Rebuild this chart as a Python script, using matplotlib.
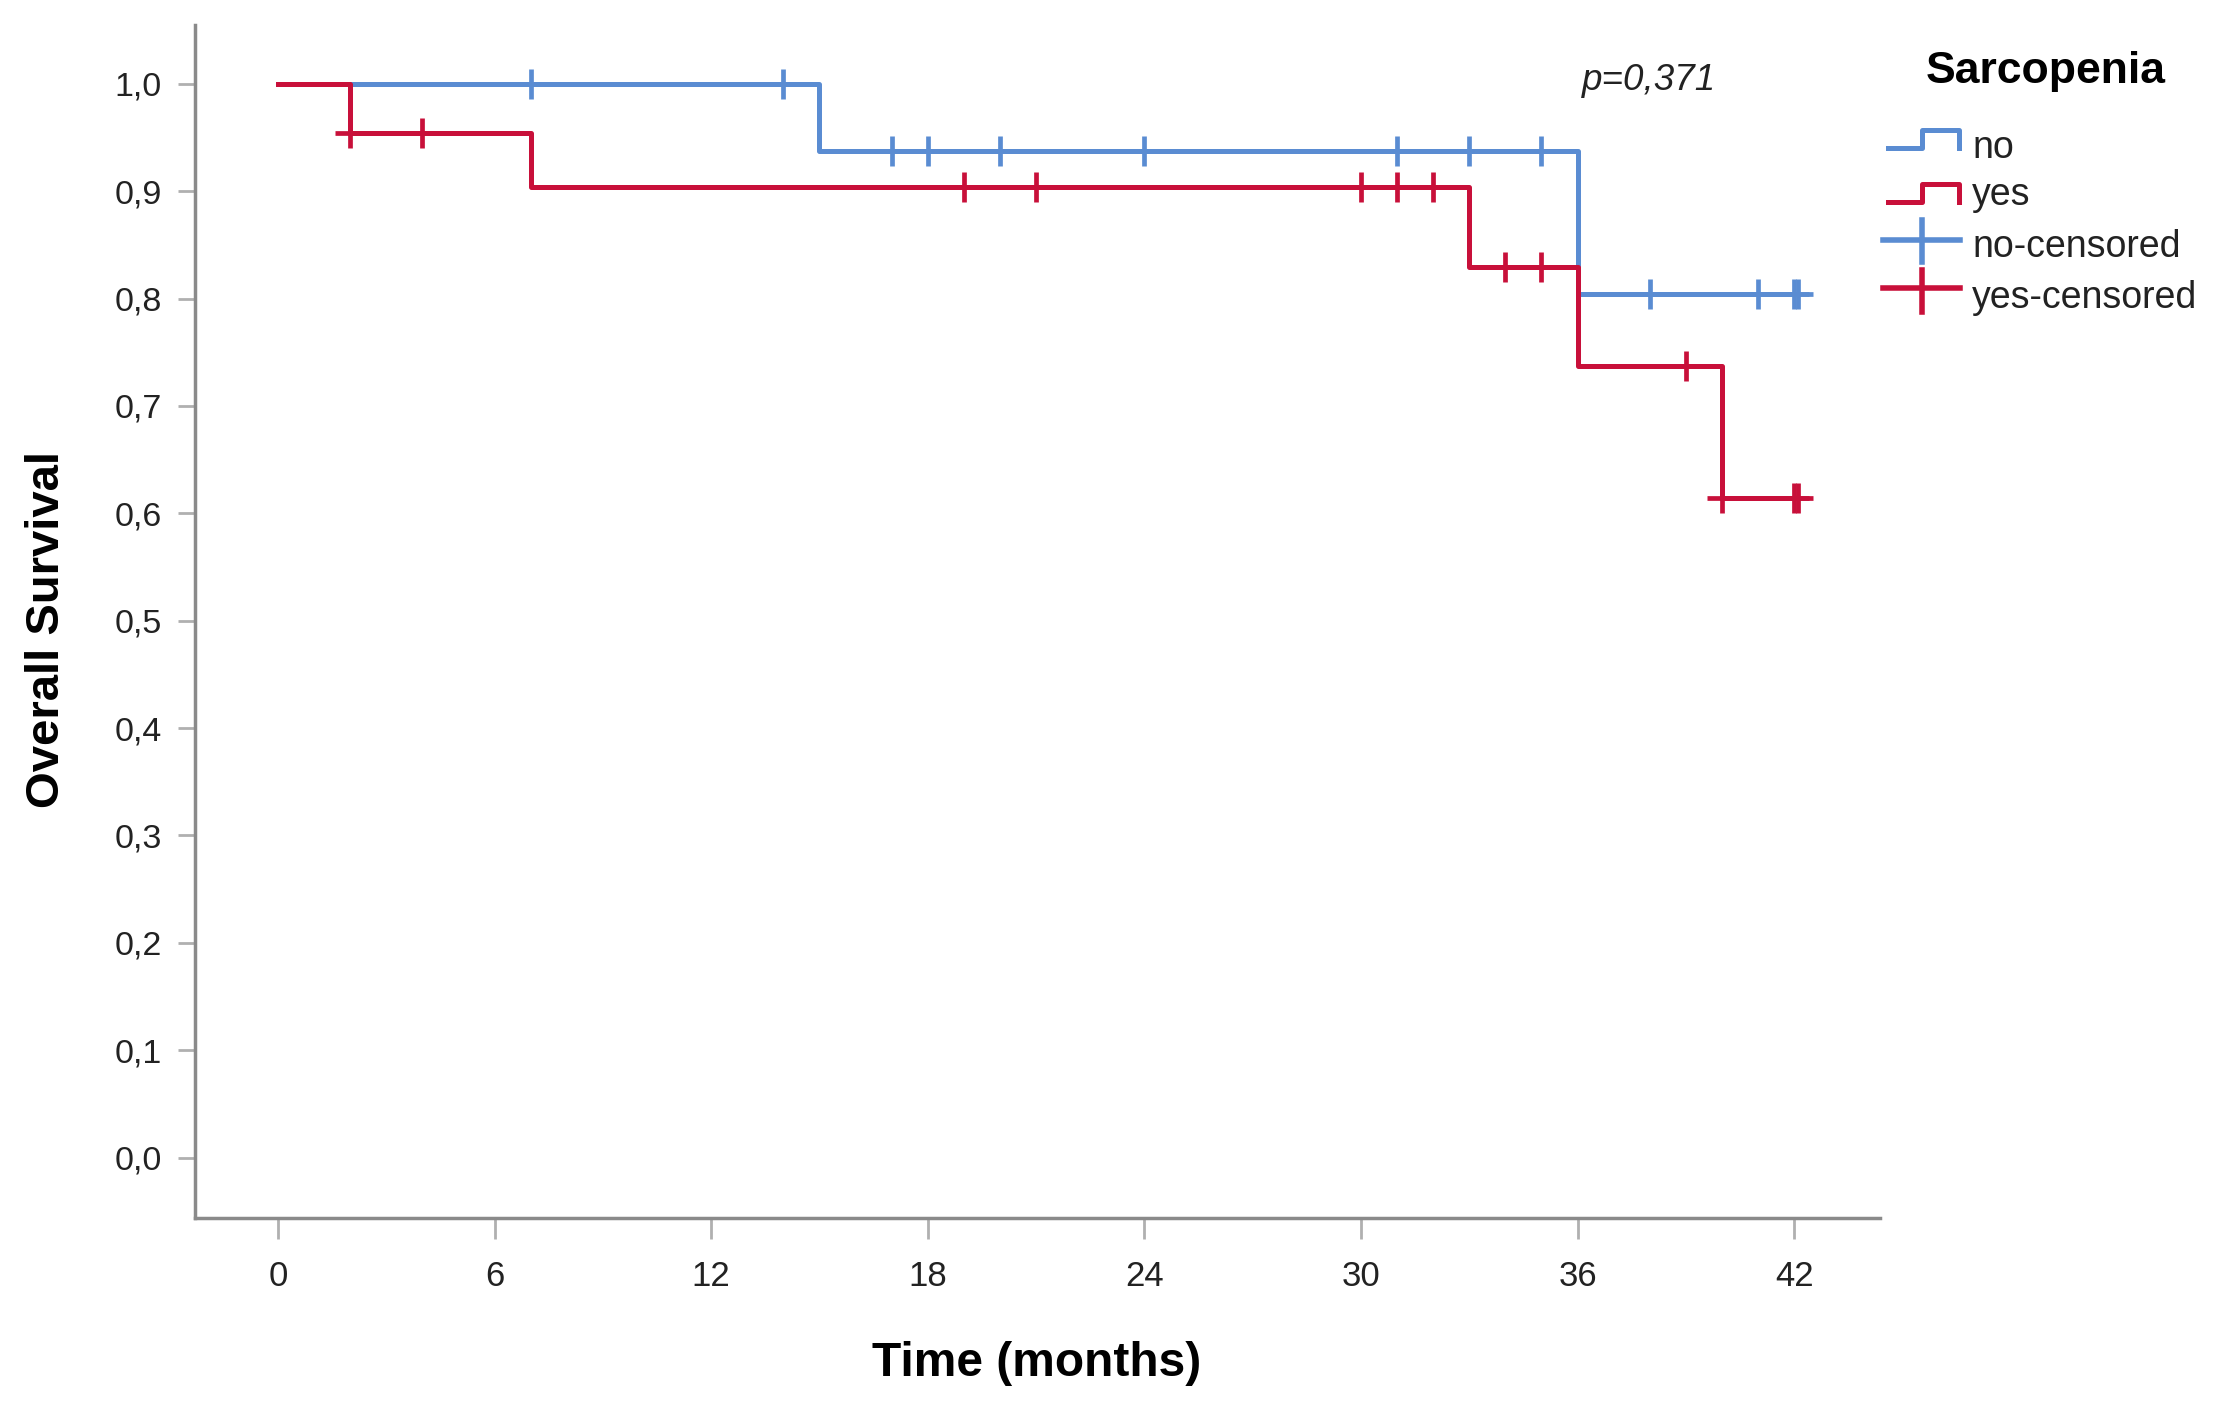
"""
Kaplan-Meier overall survival by sarcopenia status.
"""

import numpy as np
import matplotlib
matplotlib.use("Agg")
import matplotlib.pyplot as plt
from matplotlib.lines import Line2D

# ── data ────────────────────────────────────────────────────────────────────
no_times = [0, 15, 36, 42.1]
no_surv = [1.0, 0.9375, 0.804, 0.804]
no_censored = [7, 14, 17, 18, 20, 24, 31, 33, 35, 38, 41, 42.0, 42.1]

yes_times = [0, 2, 7, 33, 36, 40, 42.1]
yes_surv = [1.0, 0.9545, 0.904, 0.829, 0.737, 0.614, 0.614]
yes_censored = [2, 4, 19, 21, 30, 31, 32, 34, 35, 39, 40, 42.0, 42.1]

x_ticks = [0, 6, 12, 18, 24, 30, 36, 42]
y_ticks = [0.0, 0.1, 0.2, 0.3, 0.4, 0.5, 0.6, 0.7, 0.8, 0.9, 1.0]
legend_labels = ["no", "yes", "no-censored", "yes-censored"]
p_text = "p=0,371"

BLUE = "#5A8CD2"
RED = "#C8103A"
SPINE = "#8a8a8a"
TICK = "#b0b0b0"

W, H = 2218, 1402

plt.rcParams.update({
    "font.family": ["Liberation Sans", "DejaVu Sans"],
    "font.size": 22,
})


def level_at(times, surv, t):
    # survival level of a step curve at time t (right-continuous)
    idx = np.searchsorted(times, t, side="right") - 1
    return surv[idx]


def fx(px):
    return px / W


def fy(py):
    return 1 - py / H


fig = plt.figure(figsize=(W / 100, H / 100), dpi=100)
ax = fig.add_axes([fx(195), fy(1218), fx(1880) - fx(195), fy(25) - fy(1218)])

# ── curves ──────────────────────────────────────────────────────────────────
ax.step(no_times, no_surv, where="post", color=BLUE, linewidth=3.6, zorder=3)
ax.plot(no_censored, [level_at(no_times, no_surv, t) for t in no_censored],
        linestyle="none", marker="+", markersize=21, markeredgewidth=3.4,
        color=BLUE, zorder=3)

ax.step(yes_times, yes_surv, where="post", color=RED, linewidth=3.6, zorder=4)
ax.plot(yes_censored, [level_at(yes_times, yes_surv, t) for t in yes_censored],
        linestyle="none", marker="+", markersize=21, markeredgewidth=3.4,
        color=RED, zorder=4)

# ── axes styling ────────────────────────────────────────────────────────────
ax.set_xlim(-2.3, 44.38)
ax.set_ylim(-0.0563, 1.0548)
ax.set_xticks(x_ticks)
ax.set_xticklabels([str(v) for v in x_ticks])
ax.set_yticks(y_ticks)
ax.set_yticklabels([f"{v:.1f}".replace(".", ",") for v in y_ticks])

for side in ("top", "right"):
    ax.spines[side].set_visible(False)
for side in ("left", "bottom"):
    ax.spines[side].set_color(SPINE)
    ax.spines[side].set_linewidth(2.5)

ax.tick_params(axis="y", length=12, width=2, color=TICK, pad=12,
               labelsize=24.5, labelcolor="#222222")
ax.tick_params(axis="x", length=15, width=2, color=TICK, pad=15,
               labelsize=25, labelcolor="#222222")

fig.text(fx(47), fy(630), "Overall Survival", rotation=90, ha="center",
         va="center", fontsize=34, fontweight="bold")
fig.text(fx(1037), fy(1363), "Time (months)", ha="center", va="center",
         fontsize=34.5, fontweight="bold")

fig.text(fx(1582), fy(81), p_text, ha="left", va="center", fontsize=26.5,
         style="italic", color="#222222")

# ── legend (drawn by hand to match the SPSS glyphs) ─────────────────────────
fig.text(fx(2046), fy(72), "Sarcopenia", ha="center", va="center",
         fontsize=32, fontweight="bold")

glyph_rows = [(148, 130), (202, 184)]
for (low, high), col in zip(glyph_rows, [BLUE, RED]):
    xs = [1888, 1922, 1922, 1959, 1959]
    ys = [low, low, high, high, low]
    fig.add_artist(Line2D([fx(x) for x in xs], [fy(y) for y in ys],
                          color=col, linewidth=3.6, transform=fig.transFigure))

cross_rows = [(240, 220, 262), (288, 270, 312)]
for (mid, top, bot), col in zip(cross_rows, [BLUE, RED]):
    fig.add_artist(Line2D([fx(1883), fx(1960)], [fy(mid), fy(mid)],
                          color=col, linewidth=4, transform=fig.transFigure))
    fig.add_artist(Line2D([fx(1922), fx(1922)], [fy(top), fy(bot)],
                          color=col, linewidth=4, transform=fig.transFigure))

baselines = [158, 205, 257, 308]
for label, base in zip(legend_labels, baselines):
    fig.text(fx(1972), fy(base), label, ha="left", va="baseline",
             fontsize=27, color="#222222")

fig.savefig("out.png", dpi=100, facecolor="white")
